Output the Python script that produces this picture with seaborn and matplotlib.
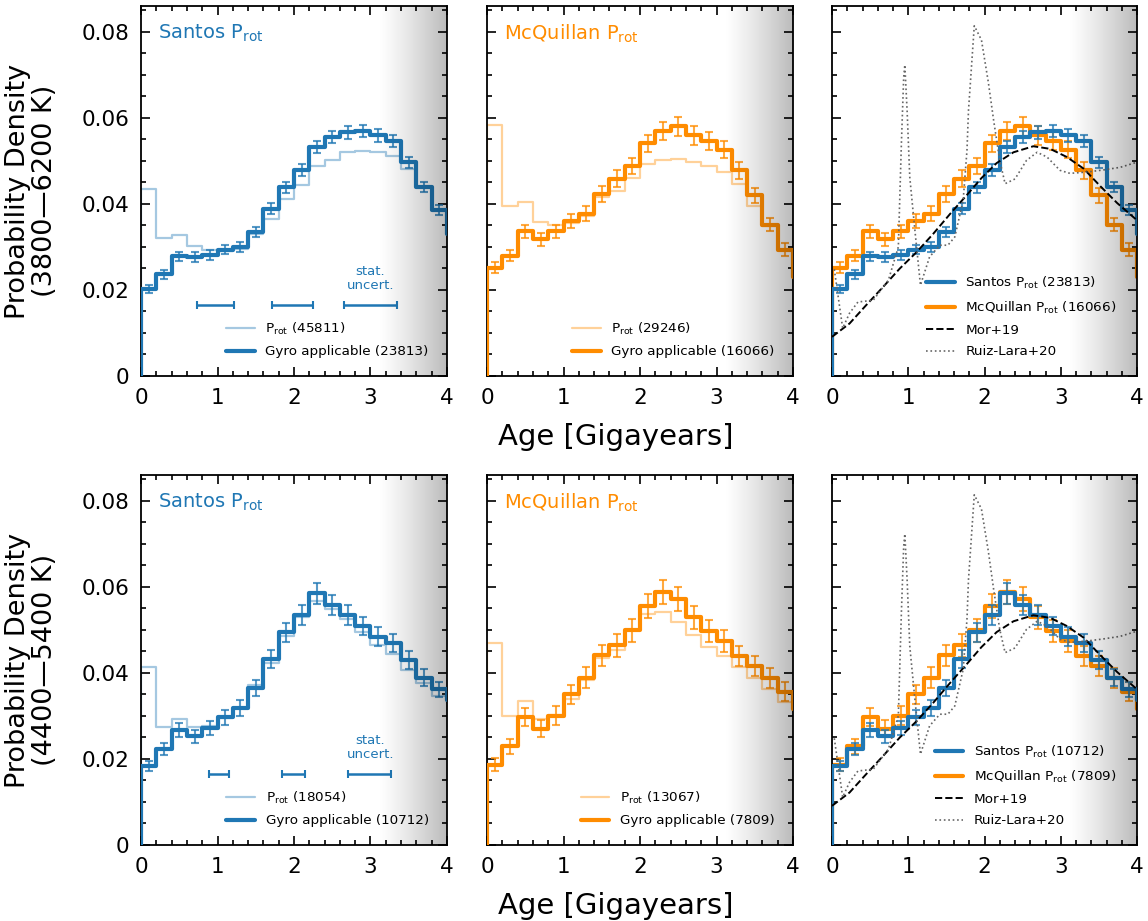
import numpy as np
import pandas as pd
import matplotlib
matplotlib.use("Agg")
import matplotlib.pyplot as plt
import seaborn as sns
from matplotlib.lines import Line2D
from matplotlib.ticker import MultipleLocator, FuncFormatter

sns.set_theme(style="ticks")
plt.rcParams["font.family"] = ["DejaVu Sans"]
plt.rcParams["text.color"] = "black"
plt.rcParams["axes.labelcolor"] = "black"

# ---------------- data ----------------
bin_edges = [0.0, 0.2, 0.4, 0.6, 0.8, 1.0, 1.2, 1.4, 1.6, 1.8, 2.0, 2.2, 2.4,
             2.6, 2.8, 3.0, 3.2, 3.4, 3.6, 3.8, 4.0, 4.2]

# Top row (3800-6200 K)
santos_gyro_top = [0.0202, 0.0236, 0.0278, 0.0277, 0.0281, 0.0294, 0.0300, 0.0335, 0.0389, 0.0439,
                   0.0479, 0.0532, 0.0556, 0.0566, 0.0569, 0.0559, 0.0546, 0.0497, 0.0439, 0.0386, 0.0331]
santos_gyro_top_err = [0.0010, 0.0010, 0.0011, 0.0011, 0.0011, 0.0011, 0.0011, 0.0012, 0.0012, 0.0013,
                       0.0013, 0.0014, 0.0014, 0.0014, 0.0014, 0.0014, 0.0014, 0.0013, 0.0012, 0.0011]
santos_all_top = [0.0434, 0.0320, 0.0328, 0.0302, 0.0292, 0.0291, 0.0296, 0.0331, 0.0366, 0.0412,
                  0.0444, 0.0488, 0.0501, 0.0520, 0.0522, 0.0520, 0.0512, 0.0481, 0.0439, 0.0385, 0.0330]
mcq_gyro_top = [0.0252, 0.0280, 0.0336, 0.0318, 0.0336, 0.0360, 0.0377, 0.0423, 0.0459, 0.0488,
                0.0541, 0.0569, 0.0580, 0.0559, 0.0547, 0.0526, 0.0478, 0.0420, 0.0352, 0.0294, 0.0230]
mcq_gyro_top_err = [0.0012, 0.0013, 0.0016, 0.0015, 0.0016, 0.0016, 0.0017, 0.0018, 0.0019, 0.0019,
                    0.0020, 0.0021, 0.0022, 0.0021, 0.0021, 0.0020, 0.0019, 0.0018, 0.0016, 0.0014]
mcq_all_top = [0.0584, 0.0394, 0.0405, 0.0358, 0.0350, 0.0355, 0.0373, 0.0416, 0.0431, 0.0461,
               0.0493, 0.0501, 0.0504, 0.0497, 0.0488, 0.0474, 0.0447, 0.0394, 0.0348, 0.0294, 0.0230]

# Bottom row (4400-5400 K)
santos_gyro_bot = [0.0183, 0.0223, 0.0267, 0.0253, 0.0272, 0.0297, 0.0319, 0.0365, 0.0432, 0.0495,
                   0.0534, 0.0585, 0.0558, 0.0534, 0.0509, 0.0484, 0.0469, 0.0430, 0.0389, 0.0362, 0.0338]
santos_gyro_bot_err = [0.0012, 0.0014, 0.0016, 0.0015, 0.0016, 0.0017, 0.0018, 0.0019, 0.0021, 0.0022,
                       0.0023, 0.0024, 0.0023, 0.0023, 0.0022, 0.0022, 0.0021, 0.0020, 0.0019, 0.0018]
santos_all_bot = [0.0414, 0.0274, 0.0293, 0.0274, 0.0276, 0.0295, 0.0319, 0.0371, 0.0422, 0.0486,
                  0.0529, 0.0568, 0.0548, 0.0526, 0.0494, 0.0464, 0.0443, 0.0407, 0.0376, 0.0346, 0.0330]
mcq_gyro_bot = [0.0187, 0.0229, 0.0298, 0.0270, 0.0301, 0.0350, 0.0389, 0.0441, 0.0464, 0.0499,
                0.0556, 0.0587, 0.0572, 0.0529, 0.0498, 0.0474, 0.0439, 0.0416, 0.0389, 0.0356, 0.0315]
mcq_gyro_bot_err = [0.0016, 0.0018, 0.0021, 0.0020, 0.0021, 0.0023, 0.0024, 0.0025, 0.0026, 0.0027,
                    0.0028, 0.0028, 0.0028, 0.0027, 0.0026, 0.0025, 0.0024, 0.0024, 0.0023, 0.0022]
mcq_all_bot = [0.0469, 0.0299, 0.0334, 0.0293, 0.0303, 0.0340, 0.0383, 0.0435, 0.0453, 0.0499,
               0.0537, 0.0542, 0.0519, 0.0488, 0.0461, 0.0439, 0.0414, 0.0389, 0.0363, 0.0332, 0.0310]

counts = {
    "top": dict(santos_all=45811, santos_gyro=23813, mcq_all=29246, mcq_gyro=16066),
    "bot": dict(santos_all=18054, santos_gyro=10712, mcq_all=13067, mcq_gyro=7809),
}
row_labels = ["Probability Density\n(3800\u20146200 K)", "Probability Density\n(4400\u20145400 K)"]

# Literature star formation histories
mor_age = [0.0, 0.23, 0.45, 0.67, 0.89, 1.11, 1.33, 1.55, 1.77, 1.96, 2.16, 2.38, 2.64,
           2.86, 3.08, 3.30, 3.52, 3.74, 4.0]
mor_pdf = [0.0091, 0.0122, 0.0165, 0.0207, 0.0250, 0.0288, 0.0331, 0.0377, 0.0421, 0.0460,
           0.0495, 0.0520, 0.0534, 0.0528, 0.0509, 0.0482, 0.0441, 0.0402, 0.0362]
ruiz_age = [0.03, 0.14, 0.23, 0.34, 0.54, 0.74, 0.87, 0.91, 0.94, 0.955, 0.985, 1.02, 1.087, 1.16,
            1.28, 1.415, 1.52, 1.61, 1.72, 1.77, 1.79, 1.866, 1.96, 2.05, 2.12, 2.20, 2.27, 2.40,
            2.55, 2.69, 2.82, 2.99, 3.12, 3.34, 3.56, 3.78, 4.0]
ruiz_pdf = [0.0248, 0.0111, 0.0146, 0.0172, 0.0176, 0.0223, 0.0300, 0.0540, 0.0694, 0.0723, 0.0617,
            0.0462, 0.0339, 0.0211, 0.0277, 0.0304, 0.0304, 0.0323, 0.0408, 0.0524, 0.0617, 0.0814,
            0.0781, 0.0683, 0.0594, 0.0501, 0.0447, 0.0458, 0.0501, 0.0520, 0.0509, 0.0478, 0.0471,
            0.0474, 0.0479, 0.0485, 0.0497]

# statistical uncertainty bars (left panels)
stat_x = {"top": [0.97, 1.98, 3.00], "bot": [1.02, 1.99, 2.99]}
stat_xerr = {"top": [0.24, 0.27, 0.34], "bot": [0.13, 0.15, 0.28]}
stat_y = 0.0166

# ---------------- style ----------------
BLUE = "#1f77b4"
ORANGE = "#ff8c00"
YMAX = 0.086
edges = np.array(bin_edges)
centers = 0.5 * (edges[:-1] + edges[1:])
BW = float(edges[1] - edges[0])

W, H = 1148, 921
fig = plt.figure(figsize=(W / 100, H / 100), dpi=100)
col_left = [141, 487, 832]
col_w = [306, 306, 305]
rows = [(6, 376), (475, 845)]
LEG_FS = 9.7


def style_axis(ax, show_ylabels):
    ax.set_xlim(0, 4)
    ax.set_ylim(0, YMAX)
    ax.xaxis.set_major_locator(MultipleLocator(1))
    ax.xaxis.set_minor_locator(MultipleLocator(0.2))
    ax.yaxis.set_major_locator(MultipleLocator(0.02))
    ax.yaxis.set_minor_locator(MultipleLocator(0.005))
    ax.tick_params(which="both", direction="in", top=True, right=True, width=1.2,
                   labelsize=15.5, colors="black")
    ax.tick_params(which="major", length=6.5)
    ax.tick_params(which="minor", length=3.5)
    ax.tick_params(axis="x", which="major", pad=8.5)
    ax.tick_params(axis="y", which="major", pad=8.5)
    ax.yaxis.set_major_formatter(FuncFormatter(lambda v, p: "0" if abs(v) < 1e-9 else f"{v:.2f}"))
    if not show_ylabels:
        ax.set_yticklabels([])
    for s in ax.spines.values():
        s.set_linewidth(1.3)
        s.set_color("black")
    ax.set_xlabel("")
    ax.set_ylabel("")


def add_gradient(ax):
    grad = np.zeros((1, 256, 4))
    grad[..., 3] = np.linspace(0, 1, 256) ** 1.2 * 0.27
    ax.imshow(grad, extent=[3.1, 4.0, 0, YMAX], aspect="auto", zorder=4,
              interpolation="bilinear")


def step_hist(ax, vals, color, lw, alpha, zorder):
    # a zero-height bin just below 0 reproduces the rise from the baseline at x = 0
    df = pd.DataFrame({
        "age": np.concatenate([[edges[0] - BW / 2], centers]),
        "dens": np.concatenate([[0.0], np.asarray(vals, dtype=float)]),
    })
    sns.histplot(data=df, x="age", weights="dens", binwidth=BW,
                 binrange=(edges[0] - BW, edges[-1]), element="step", fill=False,
                 stat="count", color=color, lw=lw, alpha=alpha, ax=ax, zorder=zorder)


def err_bars(ax, vals, err, color, zorder):
    ax.errorbar(centers[:20], vals[:20], yerr=err, fmt="none", ecolor=color,
                elinewidth=1.5, capsize=3, capthick=1.5, alpha=0.75, zorder=zorder)


def add_legend(ax, handles, labels, x_anchor):
    ax.legend(handles, labels, loc="lower right", bbox_to_anchor=(x_anchor, 0.033),
              borderaxespad=0, frameon=False, fontsize=LEG_FS, labelspacing=0.62,
              handlelength=2.1, handletextpad=0.8)


data = {
    "top": dict(sg=santos_gyro_top, sge=santos_gyro_top_err, sa=santos_all_top,
                mg=mcq_gyro_top, mge=mcq_gyro_top_err, ma=mcq_all_top),
    "bot": dict(sg=santos_gyro_bot, sge=santos_gyro_bot_err, sa=santos_all_bot,
                mg=mcq_gyro_bot, mge=mcq_gyro_bot_err, ma=mcq_all_bot),
}

for r, key in enumerate(["top", "bot"]):
    ytop, ybot = rows[r]
    axes = []
    for c in range(3):
        ax = fig.add_axes([col_left[c] / W, 1 - ybot / H, col_w[c] / W, (ybot - ytop) / H])
        axes.append(ax)
    d = data[key]
    n = counts[key]

    # --- Santos panel ---
    ax = axes[0]
    step_hist(ax, d["sa"], BLUE, 1.6, 0.4, 2)
    step_hist(ax, d["sg"], BLUE, 3.0, 1.0, 3)
    err_bars(ax, d["sg"], d["sge"], BLUE, 3.5)
    ax.errorbar(stat_x[key], [stat_y] * 3, xerr=stat_xerr[key], fmt="none", ecolor=BLUE,
                elinewidth=1.8, capsize=3, capthick=1.5)
    ax.text(3.0, 0.0196, "stat.\nuncert.", ha="center", va="bottom", fontsize=9.5,
            color=BLUE, linespacing=1.05)
    ax.text(0.055, 0.955, r"Santos P$_{\rm rot}$", transform=ax.transAxes, ha="left", va="top",
            fontsize=14, color=BLUE)
    h = [Line2D([], [], color=BLUE, lw=1.6, alpha=0.4), Line2D([], [], color=BLUE, lw=3.0)]
    add_legend(ax, h, [rf"P$_{{\rm rot}}$ ({n['santos_all']})",
                       f"Gyro applicable ({n['santos_gyro']})"], 0.958)
    add_gradient(ax)
    style_axis(ax, True)

    # --- McQuillan panel ---
    ax = axes[1]
    step_hist(ax, d["ma"], ORANGE, 1.6, 0.4, 2)
    step_hist(ax, d["mg"], ORANGE, 3.0, 1.0, 3)
    err_bars(ax, d["mg"], d["mge"], ORANGE, 3.5)
    ax.text(0.055, 0.955, r"McQuillan P$_{\rm rot}$", transform=ax.transAxes, ha="left", va="top",
            fontsize=14, color=ORANGE)
    h = [Line2D([], [], color=ORANGE, lw=1.6, alpha=0.4), Line2D([], [], color=ORANGE, lw=3.0)]
    add_legend(ax, h, [rf"P$_{{\rm rot}}$ ({n['mcq_all']})",
                       f"Gyro applicable ({n['mcq_gyro']})"], 0.958)
    add_gradient(ax)
    style_axis(ax, False)

    # --- comparison panel ---
    ax = axes[2]
    step_hist(ax, d["mg"], ORANGE, 3.0, 1.0, 2)
    err_bars(ax, d["mg"], d["mge"], ORANGE, 2.5)
    step_hist(ax, d["sg"], BLUE, 3.0, 1.0, 3)
    err_bars(ax, d["sg"], d["sge"], BLUE, 3.5)
    ax.plot(mor_age, mor_pdf, color="black", ls="--", lw=1.4, zorder=3.6)
    ax.plot(ruiz_age, ruiz_pdf, color="0.4", ls=":", lw=1.2, zorder=3.6)
    h = [Line2D([], [], color=BLUE, lw=3.0), Line2D([], [], color=ORANGE, lw=3.0),
         Line2D([], [], color="black", ls="--", lw=1.4), Line2D([], [], color="0.4", ls=":", lw=1.2)]
    add_legend(ax, h, [rf"Santos P$_{{\rm rot}}$ ({n['santos_gyro']})",
                       rf"McQuillan P$_{{\rm rot}}$ ({n['mcq_gyro']})", "Mor+19", "Ruiz-Lara+20"],
               0.951)
    add_gradient(ax)
    style_axis(ax, False)

    fig.text(32 / W, 1 - (ytop + ybot) / 2 / H, row_labels[r], rotation=90, ha="center",
             va="center", multialignment="center", fontsize=19.5, linespacing=1.05)
    fig.text(616 / W, 1 - (ybot + 61) / H, "Age [Gigayears]", ha="center", va="center",
             fontsize=21)

fig.savefig("out.png", dpi=100)
